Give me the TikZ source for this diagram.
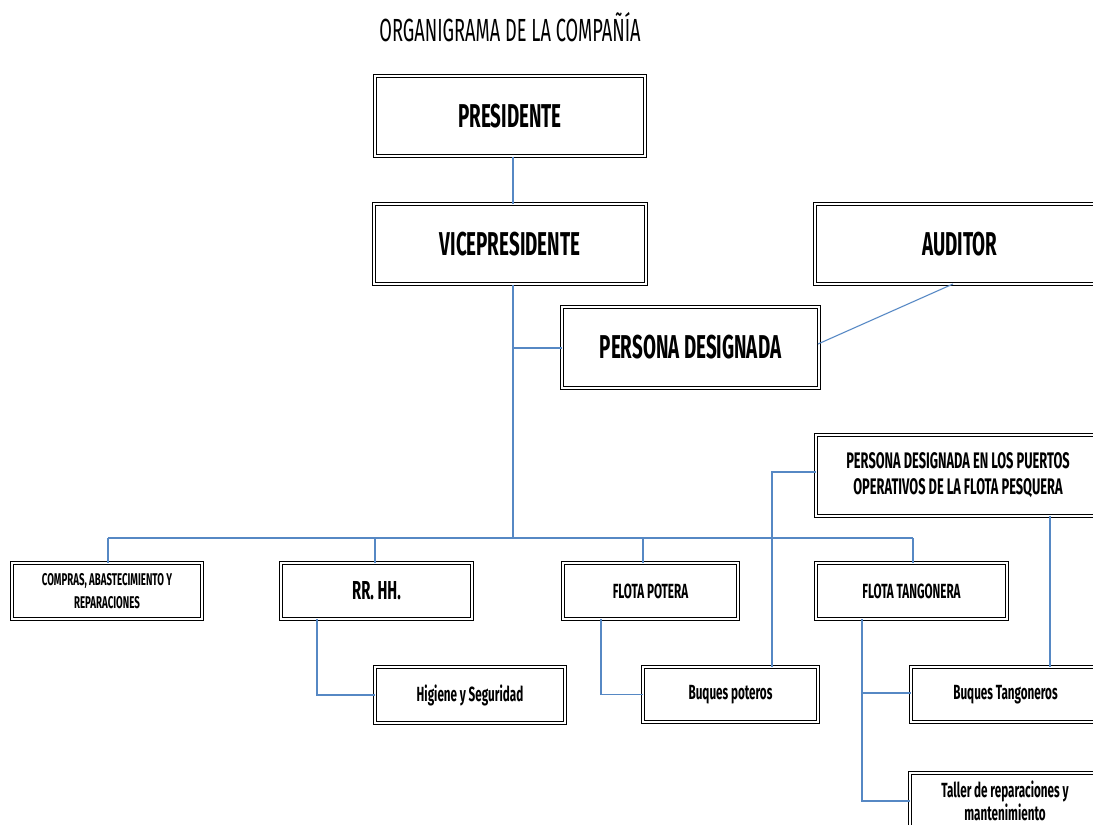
\documentclass[tikz,border=0pt]{standalone}
\usepackage{fontspec}
\setmainfont{Fira Sans}[FakeStretch=0.57]
\usetikzlibrary{calc}
\definecolor{linkblue}{RGB}{86,136,196}
\newcommand{\fs}[2]{\fontsize{#1}{#2}\selectfont}
\begin{document}
\begin{tikzpicture}[x=1pt,y=-1pt,
  orgbox/.style={draw=black, line width=1pt, double=white, double distance=1.8pt,
    fill=white, inner sep=0pt, align=center, font=\bfseries},
  bigbox/.style={orgbox, minimum height=80pt, font=\bfseries\fs{33}{36}},
  smallbox/.style={orgbox, minimum height=56pt},
  capsmall/.style={smallbox, font=\bfseries\fs{20.5}{24}},
  lowsmall/.style={smallbox, font=\bfseries\fs{20.5}{23}},
  link/.style={draw=linkblue, line width=1.1pt}]
\useasboundingbox (0,0) rectangle (1093,825);
\clip (0,0) rectangle (1093,825);

% title
\node (title) at (510,27) {\fs{32}{36}ORGANIGRAMA DE LA COMPAÑÍA};

% upper levels
\node[bigbox, minimum width=270pt] (pres) at (510,116) {PRESIDENTE};
\node[bigbox, minimum width=272pt] (vp) at (510,244) {VICEPRESIDENTE};
\node[bigbox, minimum width=290pt] (aud) at (960,244) {AUDITOR};
\node[bigbox, minimum width=257pt, minimum height=81pt] (pd) at (690.5,347.5) {PERSONA DESIGNADA};
\node[orgbox, minimum width=284pt, minimum height=81pt, font=\bfseries\fs{22.5}{26}] (pdp) at (958,475.5)
  {PERSONA DESIGNADA EN LOS PUERTOS\\OPERATIVOS DE LA FLOTA PESQUERA};

% departments
\node[smallbox, minimum width=190pt, font=\bfseries\fs{17}{23}] (comp) at (107,591)
  {COMPRAS, ABASTECIMIENTO Y\\REPARACIONES};
\node[smallbox, minimum width=191pt, font=\bfseries\fs{26}{28}] (rrhh) at (376.5,591) {RR. HH.};
\node[capsmall, minimum width=175pt] (fp) at (650.5,591) {FLOTA POTERA};
\node[capsmall, minimum width=191pt] (ft) at (911.5,591) {FLOTA TANGONERA};

% lower units
\node[lowsmall, minimum width=190pt] (hig) at (470,695) {Higiene y Seguridad};
\node[lowsmall, minimum width=175pt, minimum height=55pt] (bp) at (730.5,694.5) {Buques poteros};
\node[lowsmall, minimum width=189pt, minimum height=55pt] (bt) at (1005.5,694.5) {Buques Tangoneros};
\node[lowsmall, minimum width=190pt] (tal) at (1005,801)
  {Taller de reparaciones y\\mantenimiento};

% bus points
\coordinate (busc) at (513,538);
\coordinate (busl) at (108,538);
\coordinate (busr) at (913,538);
\coordinate (pdj) at (513,348);

% connectors
\draw[link] ([xshift=3pt]pres.south) -- ([xshift=3pt]vp.north);
\draw[link] ([xshift=3pt]vp.south) -- (busc);
\draw[link] (pdj) -- (pdj -| pd.west);
\draw[link] (busl) -- (busr);
\draw[link] (busl) -- (busl |- comp.north);
\draw[link] (375,538) -- (375,563);
\draw[link] (643,538) -- (643,563);
\draw[link] (busr) -- (busr |- ft.north);
\draw[link] (953,284) -- (818,344);

\draw[link] (317,619) |- (hig.west);
\draw[link] (601,619) |- (bp.west);
\draw[link] (pdp.west |- 0,472) -| (772,667);
\draw[link] (1050,516) -- (1050,667);
\draw[link] (862,619) |- (tal.west);
\draw[link] (862,693) -- (bt.west |- 0,693);
\end{tikzpicture}
\end{document}
